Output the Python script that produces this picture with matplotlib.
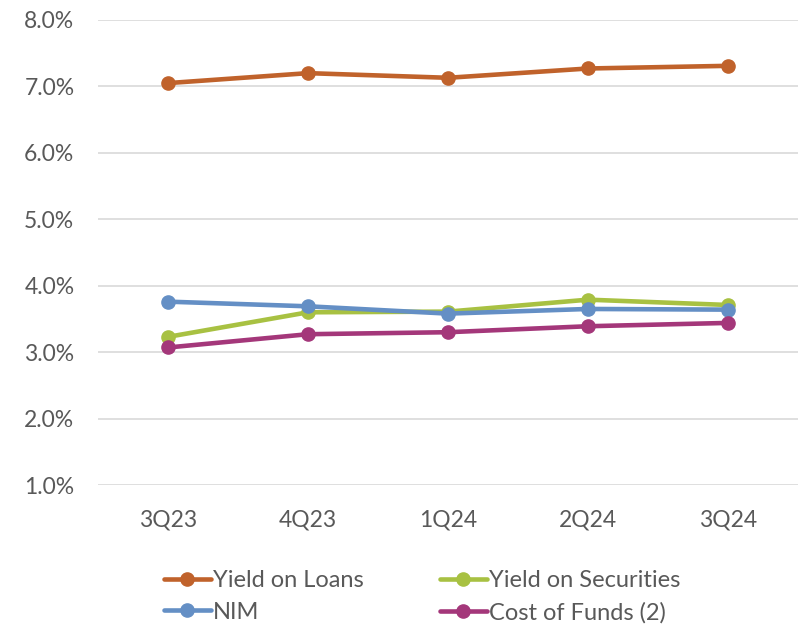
import matplotlib.pyplot as plt
from matplotlib.ticker import FuncFormatter

quarters = ["3Q23", "4Q23", "1Q24", "2Q24", "3Q24"]
yield_on_loans = [7.05, 7.20, 7.13, 7.27, 7.31]
yield_on_securities = [3.23, 3.60, 3.61, 3.79, 3.71]
nim = [3.76, 3.69, 3.58, 3.65, 3.64]
cost_of_funds = [3.07, 3.27, 3.30, 3.39, 3.44]

series = [
    ("Yield on Loans", yield_on_loans, "#C0622B"),
    ("Yield on Securities", yield_on_securities, "#A8C142"),
    ("NIM", nim, "#648FC5"),
    ("Cost of Funds (2)", cost_of_funds, "#A4377A"),
]

plt.rcParams['font.family'] = ['Lato', 'DejaVu Sans']
grey = "#595959"

fig = plt.figure(figsize=(8.04, 6.29), dpi=100)
ax = fig.add_axes([98 / 804, 1 - 485 / 629, 700 / 804, 465 / 629])

x = range(len(quarters))
lines = {}
for name, vals, col in series:
    ln, = ax.plot(x, vals, color=col, lw=3.3, marker="o", ms=9.5,
                  solid_capstyle="round", label=name)
    lines[name] = ln

ax.set_xlim(-0.5, len(quarters) - 0.5)
ax.set_ylim(1.0, 8.0)
ax.set_yticks([1, 2, 3, 4, 5, 6, 7, 8])
ax.yaxis.set_major_formatter(FuncFormatter(lambda v, p: "%.1f%%" % v))
ax.set_xticks(list(x))
ax.set_xticklabels(quarters)
ax.grid(axis="y", color="#D9D9D9", lw=1.2)
ax.set_axisbelow(True)
for s in ax.spines.values():
    s.set_visible(False)
ax.tick_params(axis="both", length=0, labelsize=16.5, labelcolor=grey)
ax.tick_params(axis="y", pad=17)
ax.tick_params(axis="x", pad=18)

# legend rows: Loans / Securities, NIM / Cost of Funds
order = ["Yield on Loans", "NIM", "Yield on Securities", "Cost of Funds (2)"]
leg = fig.legend([lines[n] for n in order], order, ncol=2, loc="center",
                 bbox_to_anchor=(0.525, 0.0515), frameon=False, fontsize=17,
                 handlelength=2.0, handletextpad=0.1, columnspacing=3.2,
                 labelspacing=0.45, labelcolor=grey, borderpad=0.2)

fig.savefig("out.png", dpi=100)
